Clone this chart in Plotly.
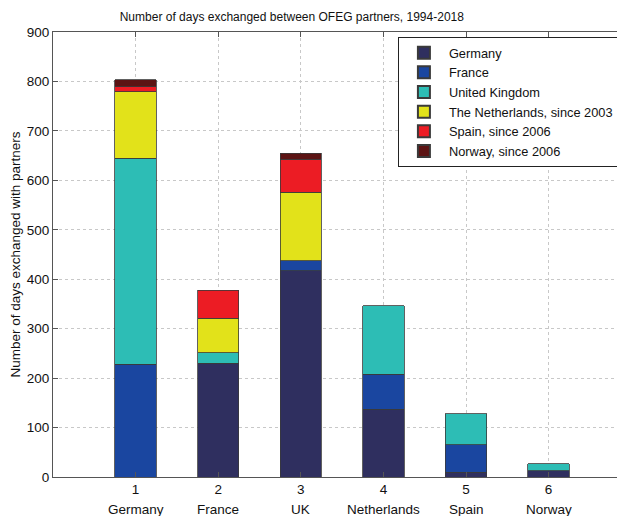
import plotly.graph_objects as go

hosts = ["1", "2", "3", "4", "5", "6"]
host_names = ["Germany", "France", "UK", "Netherlands", "Spain", "Norway"]
x_pos = [1, 2, 3, 4, 5, 6]

series_names = ["Germany", "France", "United Kingdom",
                "The Netherlands, since 2003", "Spain, since 2006", "Norway, since 2006"]
germany = [None, 230, 417, 137, 10, 13]
france = [228, None, 20, 71, 55, None]
uk = [417, 21, None, 138, 63, 14]
netherlands = [134, 70, 139, None, None, None]
spain = [10, 57, 67, None, None, None]
norway = [14, None, 12, None, None, None]
series_values = [germany, france, uk, netherlands, spain, norway]
colors = ["#2f2f5f", "#1a46a0", "#2dbdb5", "#e2e21a", "#ec1c24", "#5c1414"]

title = "Number of days exchanged between OFEG partners, 1994-2018"
ytitle = "Number of days exchanged with partners"

fig = go.Figure()
for name, vals, col in zip(series_names, series_values, colors):
    fig.add_trace(go.Bar(
        x=x_pos, y=vals, name=name, width=0.5,
        marker=dict(color=col, line=dict(color="#3a3a3a", width=0.8)),
    ))

# country names as a second row under the numeric tick labels
for xp, nm in zip(x_pos, host_names):
    fig.add_annotation(x=xp, xref="x", y=-0.072, yref="paper", text=nm,
                       showarrow=False, xanchor="center", yanchor="middle",
                       font=dict(size=13.5, color="#111"))

fig.update_layout(
    width=617, height=508,
    barmode="stack",
    paper_bgcolor="white", plot_bgcolor="white",
    margin=dict(l=45, r=0, t=24, b=39),
    font=dict(family="Liberation Sans, Arial, sans-serif", size=12, color="#111"),
    title=dict(text=title, x=0.46, xanchor="center", xref="container",
               y=0.982, yref="container", yanchor="middle", automargin=False,
               font=dict(size=12, color="#111")),
    showlegend=True,
    legend=dict(traceorder="normal", x=0.603, y=0.989, xanchor="left", yanchor="top",
                bgcolor="white", bordercolor="#222", borderwidth=1,
                font=dict(size=12.8), itemsizing="constant",
                tracegroupgap=0, itemwidth=40),
    xaxis=dict(range=[0, 6.925], tickmode="array", tickvals=x_pos, ticktext=hosts,
               showline=True, linecolor="#555", linewidth=1, mirror="ticks",
               ticks="inside", ticklen=5, tickcolor="#555", automargin=False,
               showgrid=True, gridcolor="#c8c8c8", griddash="dot", gridwidth=1,
               tickfont=dict(size=13.5), zeroline=False),
    yaxis=dict(range=[0, 900], dtick=100,
               showline=True, linecolor="#555", linewidth=1, mirror="ticks",
               ticks="inside", ticklen=5, tickcolor="#555", automargin=False,
               showgrid=True, gridcolor="#c8c8c8", griddash="dot", gridwidth=1,
               tickfont=dict(size=13.5),
               title=dict(text=ytitle, font=dict(size=13.5), standoff=3), zeroline=False),
)

fig.write_html("out.html")
